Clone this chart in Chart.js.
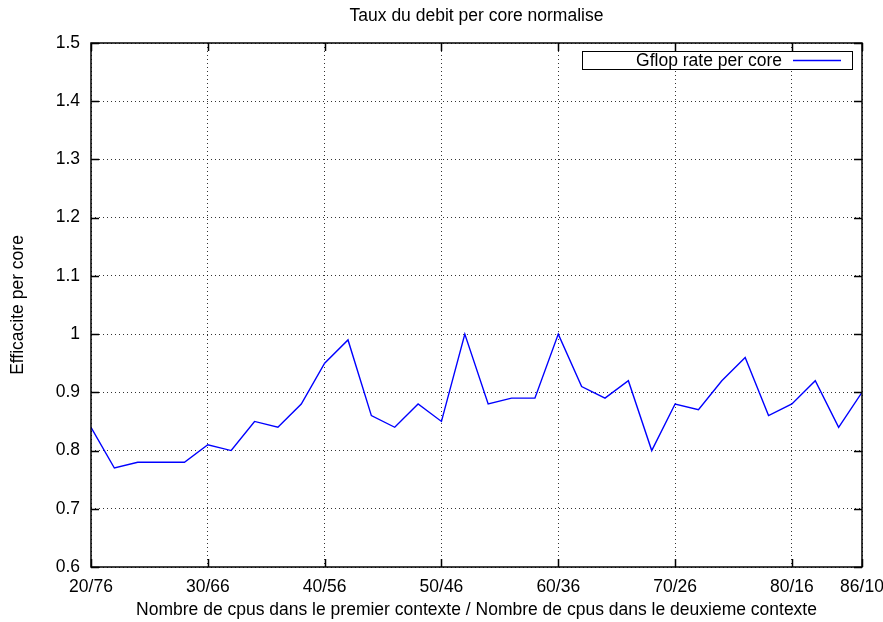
<!DOCTYPE html>
<html><head><meta charset="utf-8">
<script src="https://cdn.jsdelivr.net/npm/chart.js@4.4.1/dist/chart.umd.min.js"></script>
<style>html,body{margin:0;padding:0;background:#fff;}#wrap{width:883px;height:622px;}</style>
</head><body><div id="wrap"><canvas id="c" width="883" height="622"></canvas></div>
<script>
const chartTitle = 'Taux du debit per core normalise';
const xAxisTitle = 'Nombre de cpus dans le premier contexte / Nombre de cpus dans le deuxieme contexte';
const yAxisTitle = 'Efficacite per core';
const seriesLabel = 'Gflop rate per core';
const cpusFirst = [20,22,24,26,28,30,32,34,36,38,40,42,44,46,48,50,52,54,56,58,60,62,64,66,68,70,72,74,76,78,80,82,84,86];
const gflopRate = [0.84,0.77,0.78,0.78,0.78,0.81,0.80,0.85,0.84,0.88,0.95,0.99,0.86,0.84,0.88,0.85,1.00,0.88,0.89,0.89,1.00,0.91,0.89,0.92,0.80,0.88,0.87,0.92,0.96,0.86,0.88,0.92,0.84,0.90];
const xTickValues = [20,30,40,50,60,70,80,86];
const xTickLabels = ['20/76','30/66','40/56','50/46','60/36','70/26','80/16','86/10'];
const yTickValues = [0.6,0.7,0.8,0.9,1.0,1.1,1.2,1.3,1.4,1.5];
const yTickLabels = ['0.6','0.7','0.8','0.9','1','1.1','1.2','1.3','1.4','1.5'];

const FONT = "'Liberation Sans', Arial, Helvetica, sans-serif";
const FS = 17.5;
const LINE_COLOR = '#0000ff';

const gnuFrame = {
  id: 'gnuFrame',
  afterDraw(chart) {
    const ctx = chart.ctx;
    const a = chart.chartArea;
    const xs = chart.scales.x, ys = chart.scales.y;
    ctx.save();
    ctx.strokeStyle = '#000';
    ctx.lineWidth = 1.5;
    ctx.setLineDash([]);
    ctx.beginPath();
    const tl = 8;
    xTickValues.forEach(v => {
      const px = Math.round(xs.getPixelForValue(v)) + 0.5;
      ctx.moveTo(px, a.bottom); ctx.lineTo(px, a.bottom - tl);
      ctx.moveTo(px, a.top); ctx.lineTo(px, a.top + tl);
    });
    yTickValues.forEach(v => {
      const py = Math.round(ys.getPixelForValue(v)) + 0.5;
      ctx.moveTo(a.left, py); ctx.lineTo(a.left + tl, py);
      ctx.moveTo(a.right, py); ctx.lineTo(a.right - tl, py);
    });
    ctx.stroke();
    ctx.strokeRect(a.left, a.top, a.right - a.left, a.bottom - a.top);

    // title
    ctx.fillStyle = '#000';
    ctx.font = FS + 'px ' + FONT;
    ctx.textAlign = 'center';
    ctx.textBaseline = 'middle';
    ctx.fillText(chartTitle, (a.left + a.right) / 2, 16);

    // legend (gnuplot style)
    const bRight = a.right - 10, bTop = a.top + 8, bW = 270, bH = 18;
    ctx.fillStyle = '#fff';
    ctx.fillRect(bRight - bW, bTop, bW, bH);
    ctx.lineWidth = 1;
    ctx.strokeStyle = '#000';
    ctx.strokeRect(bRight - bW + 0.5, bTop + 0.5, bW, bH);
    ctx.fillStyle = '#000';
    ctx.textAlign = 'right';
    ctx.fillText(chart.data.datasets[0].label, bRight - 70, bTop + bH / 2 + 1);
    ctx.strokeStyle = chart.data.datasets[0].borderColor;
    ctx.lineWidth = 1.3;
    ctx.beginPath();
    ctx.moveTo(bRight - 59, bTop + bH / 2 + 0.5);
    ctx.lineTo(bRight - 11, bTop + bH / 2 + 0.5);
    ctx.stroke();
    ctx.restore();
  }
};

new Chart(document.getElementById('c'), {
  type: 'line',
  data: {
    datasets: [{
      label: seriesLabel,
      data: cpusFirst.map((x, i) => ({x: x, y: gflopRate[i]})),
      borderColor: LINE_COLOR,
      borderWidth: 1.4,
      pointRadius: 0,
      tension: 0,
      fill: false
    }]
  },
  options: {
    responsive: false,
    animation: false,
    devicePixelRatio: 1,
    layout: {padding: {top: 43, right: 21, left: 0, bottom: 0}},
    plugins: {legend: {display: false}, tooltip: {enabled: false}, title: {display: false}},
    scales: {
      x: {
        type: 'linear', min: 20, max: 86,
        afterBuildTicks: s => { s.ticks = xTickValues.map(v => ({value: v})); },
        afterFit: s => { s.height = 55; s.paddingLeft = 0; s.paddingRight = 0; },
        ticks: {
          autoSkip: false, maxRotation: 0, padding: 10, color: '#000',
          font: {family: FONT, size: FS},
          callback: (v) => { const i = xTickValues.indexOf(v); return i >= 0 ? xTickLabels[i] : ''; }
        },
        grid: {color: 'rgba(0,0,0,0.8)', lineWidth: 1, drawTicks: false},
        border: {display: false, dash: [1, 3]},
        title: {display: true, text: xAxisTitle, color: '#000', font: {family: FONT, size: FS}, padding: {top: 0, bottom: 1}}
      },
      y: {
        type: 'linear', min: 0.6, max: 1.5,
        afterBuildTicks: s => { s.ticks = yTickValues.map(v => ({value: v})); },
        afterFit: s => { s.width = 91; s.paddingTop = 0; s.paddingBottom = 0; },
        ticks: {
          autoSkip: false, padding: 11, color: '#000',
          font: {family: FONT, size: FS},
          callback: (v) => { const i = yTickValues.findIndex(t => Math.abs(t - v) < 1e-9); return i >= 0 ? yTickLabels[i] : ''; }
        },
        grid: {color: 'rgba(0,0,0,0.8)', lineWidth: 1, drawTicks: false},
        border: {display: false, dash: [1, 3]},
        title: {display: true, text: yAxisTitle, color: '#000', font: {family: FONT, size: FS}, padding: {top: 8, bottom: 0}}
      }
    }
  },
  plugins: [gnuFrame]
});
</script>
</body></html>
